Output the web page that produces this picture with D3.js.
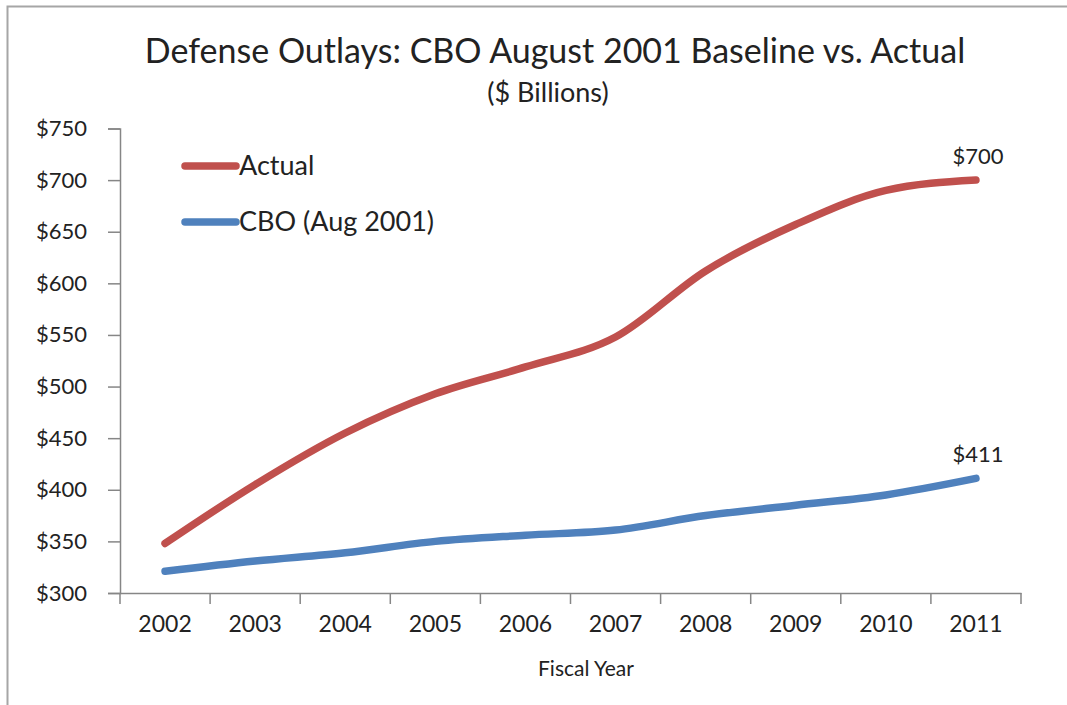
<!DOCTYPE html>
<html>
<head>
<meta charset="utf-8">
<script src="https://cdn.jsdelivr.net/npm/d3@7"></script>
<style>
  body { margin: 0; background: #fff; }
  text { font-family: Lato, "Open Sans", sans-serif; fill: #222; }
</style>
</head>
<body>
<div class="chart"></div>
<script>
// data
const years = ["2002", "2003", "2004", "2005", "2006", "2007", "2008", "2009", "2010", "2011"];
const actual = [348, 405, 455, 493, 519, 548, 612, 657, 690, 700];
const cbo = [321, 331, 339, 350, 356, 361, 375, 385, 395, 411];
const yTicks = [300, 350, 400, 450, 500, 550, 600, 650, 700, 750];
const seriesNames = ["Actual", "CBO (Aug 2001)"];

const W = 1067, H = 705;
const margin = {top: 128.5, right: 46, bottom: 112, left: 120};
const width = W - margin.left - margin.right,
      height = H - margin.top - margin.bottom;

const root = d3.select(".chart").append("svg")
    .attr("width", W)
    .attr("height", H);

// frame (only top and left show in the crop)
root.append("path")
    .attr("d", `M7.5,${H} V6.5 H${W}`)
    .attr("fill", "none")
    .attr("stroke", "#a6a6a6")
    .attr("stroke-width", 2);

const svg = root.append("g")
    .attr("transform", `translate(${margin.left},${margin.top})`);

// scales
const xScale = d3.scaleBand().domain(years).range([0, width]);
const yScale = d3.scaleLinear().domain([300, 750]).range([height, 0]);
const xPos = d => xScale(d) + xScale.bandwidth() / 2;

// y axis
const yAxis = svg.append("g").attr("class", "axis y-axis")
    .call(d3.axisLeft(yScale).tickValues(yTicks).tickSize(12).tickPadding(21)
        .tickFormat(d => "$" + d));
yAxis.selectAll("text").style("font-size", "22px");

// x axis, ticks between the categories
const xAxis = svg.append("g").attr("class", "axis x-axis")
    .attr("transform", `translate(0,${height})`)
    .call(d3.axisBottom(xScale).tickSize(0).tickPadding(23));
xAxis.selectAll("text").style("font-size", "23px");
xAxis.selectAll(".sep")
    .data(d3.range(years.length + 1))
    .join("line")
    .attr("class", "sep")
    .attr("x1", i => i * xScale.step()).attr("x2", i => i * xScale.step())
    .attr("y1", 0).attr("y2", 11);

svg.selectAll(".axis path.domain, .axis line")
    .attr("stroke", "#868686")
    .attr("stroke-width", 1.5);

// lines
const line = d3.line()
    .x((d, i) => xPos(years[i]))
    .y(d => yScale(d))
    .curve(d3.curveMonotoneX);

const colors = ["#c0504d", "#4f81bd"];
[actual, cbo].forEach((vals, k) => {
    svg.append("path")
        .datum(vals)
        .attr("d", line)
        .attr("fill", "none")
        .attr("stroke", colors[k])
        .attr("stroke-width", 7.5)
        .attr("stroke-linecap", "round")
        .attr("stroke-linejoin", "round");

    const last = vals[vals.length - 1];
    svg.append("text")
        .attr("x", xPos(years[years.length - 1]) + 2)
        .attr("y", yScale(last) - 16)
        .attr("text-anchor", "middle")
        .style("font-size", "22px")
        .text("$" + last);
});

// legend
seriesNames.forEach((name, k) => {
    const g = root.append("g").attr("transform", `translate(182,${166 + k * 56})`);
    g.append("line")
        .attr("x1", 3).attr("x2", 54)
        .attr("stroke", colors[k])
        .attr("stroke-width", 7.5)
        .attr("stroke-linecap", "round");
    g.append("text")
        .attr("x", 57).attr("y", 9)
        .style("font-size", "27px")
        .text(name);
});

// titles
root.append("text")
    .attr("x", 555).attr("y", 63)
    .attr("text-anchor", "middle")
    .style("font-size", "34px")
    .text("Defense Outlays: CBO August 2001 Baseline vs. Actual");
root.append("text")
    .attr("x", 548).attr("y", 102)
    .attr("text-anchor", "middle")
    .style("font-size", "27px")
    .text("($ Billions)");
root.append("text")
    .attr("x", 586).attr("y", 676)
    .attr("text-anchor", "middle")
    .style("font-size", "21px")
    .text("Fiscal Year");
</script>
</body>
</html>
